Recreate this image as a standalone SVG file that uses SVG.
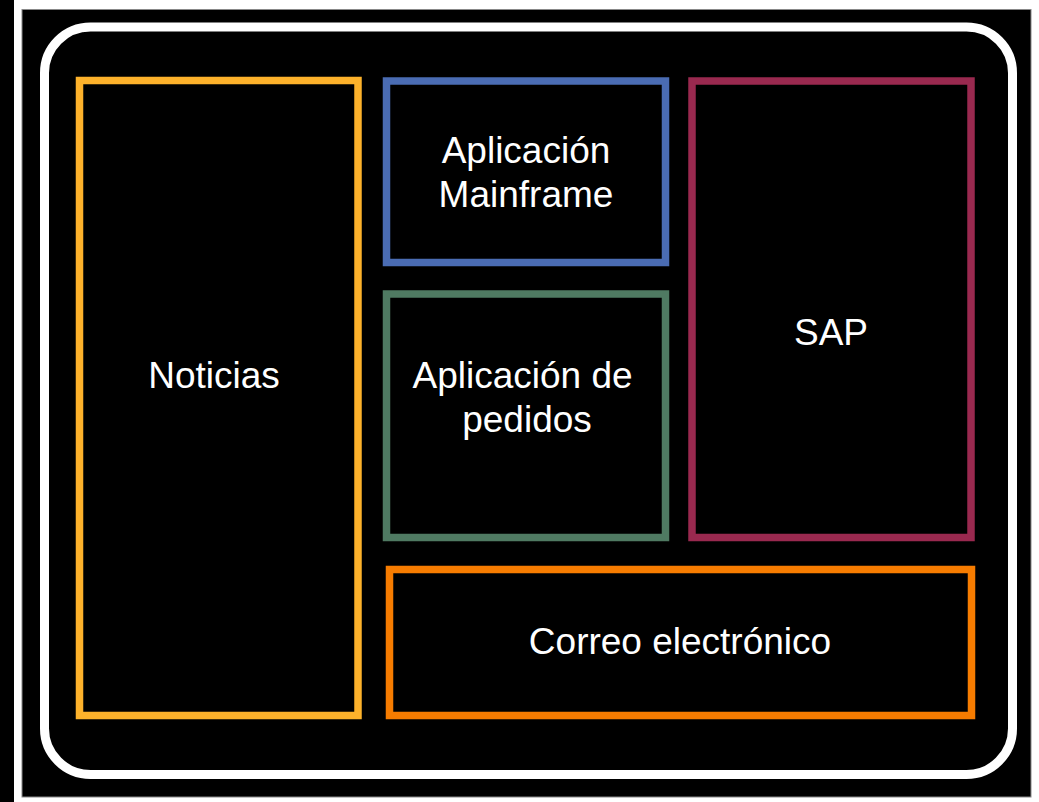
<svg xmlns="http://www.w3.org/2000/svg" width="1039" height="802" viewBox="0 0 1039 802">
<style>
.box{fill:#000;stroke-width:7.5}
.t{font-family:"Liberation Sans",Arial,sans-serif;font-size:37px;fill:#fff;text-anchor:middle}
</style>
<rect x="0" y="0" width="1039" height="802" fill="#000"/>
<rect x="14" y="0" width="1025" height="802" fill="#fff"/>
<rect x="22" y="9.5" width="1009" height="787.5" fill="#000" stroke="#888" stroke-width="1"/>
<rect id="container" x="44.5" y="27" width="968" height="747.5" rx="46" fill="#000" stroke="#fff" stroke-width="9"/>
<g id="noticias">
<rect class="box" x="79.5" y="80.5" width="278.5" height="635" stroke="#FDB22B"/>
<text class="t" x="214" y="388">Noticias</text>
</g>
<g id="mainframe">
<rect class="box" x="386.5" y="81" width="279" height="181.5" stroke="#4A6CB3"/>
<text class="t" x="526" y="163">Aplicación</text>
<text class="t" x="526" y="207">Mainframe</text>
</g>
<g id="pedidos">
<rect class="box" x="386.5" y="294" width="279" height="243.5" stroke="#4F7A62"/>
<text class="t" x="522.5" y="388">Aplicación de</text>
<text class="t" x="527" y="432">pedidos</text>
</g>
<g id="sap">
<rect class="box" x="692" y="81" width="279" height="456.5" stroke="#99294F"/>
<text class="t" x="831" y="345">SAP</text>
</g>
<g id="correo">
<rect class="box" x="389.5" y="569.5" width="582" height="146" stroke="#F77C00"/>
<text class="t" x="680" y="654">Correo electrónico</text>
</g>
<g id="connectors"/>
</svg>
